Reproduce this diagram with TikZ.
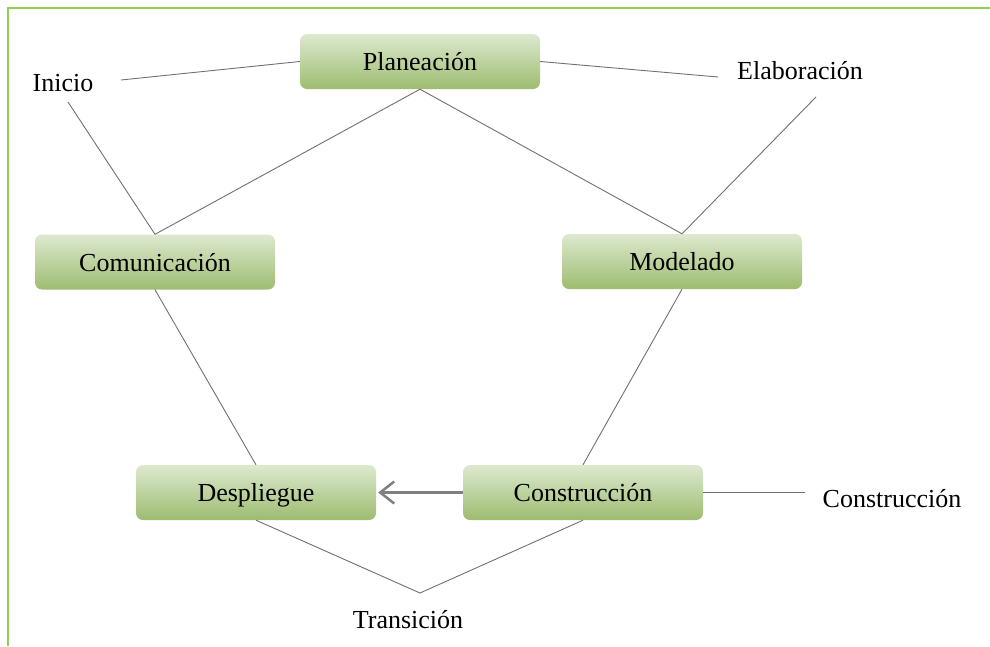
\documentclass[tikz,border=0pt]{standalone}
\usepackage{fontspec}
\setmainfont{Liberation Serif}
\usetikzlibrary{arrows.meta}
\definecolor{boxtop}{HTML}{DDE9CF}
\definecolor{boxbot}{HTML}{9DBC70}
\definecolor{framegreen}{HTML}{92D050}
\definecolor{linegray}{HTML}{707070}
\definecolor{arrowgray}{HTML}{7F7F7F}
\begin{document}
\begin{tikzpicture}[x=1pt,y=-1pt,
  stagebox/.style={rounded corners=7pt, top color=boxtop, bottom color=boxbot,
    draw=none, minimum width=240pt, minimum height=55pt, inner sep=0pt,
    text height=18pt, text depth=0pt,
    font=\fontsize{26}{30}\selectfont},
  lbl/.style={inner sep=0pt, text height=18pt, text depth=0pt, font=\fontsize{26}{30}\selectfont},
  conn/.style={draw=linegray, line width=0.9pt}]
\useasboundingbox (0,0) rectangle (990,646);
% frame
\draw[framegreen, line width=2.5pt] (8,646) -- (8,8) -- (990,8);
% nodes
\node[stagebox] (plan) at (420,61.5) {Planeación};
\node[stagebox] (com) at (155,262) {Comunicación};
\node[stagebox] (mod) at (682,261.5) {Modelado};
\node[stagebox] (des) at (256,492.5) {Despliegue};
\node[stagebox] (con) at (583,492.5) {Construcción};
% labels
\node[lbl] (ini) at (63,82) {Inicio};
\node[lbl] (ela) at (800,70) {Elaboración};
\node[lbl] (conl) at (892,498) {Construcción};
\node[lbl] (tra) at (408,619) {Transición};
% free ends
\coordinate (iniR) at (121,80);
\coordinate (iniB) at (68,102);
\coordinate (elaL) at (718,77);
\coordinate (elaB) at (816,97);
\coordinate (conR) at (805,492.5);
\coordinate (traT) at (420,593);
% connectors
\draw[conn] (iniR) -- (plan.west);
\draw[conn] (plan.east) -- (elaL);
\draw[conn] (iniB) -- (com.north);
\draw[conn] (plan.south) -- (com.north);
\draw[conn] (plan.south) -- (mod.north);
\draw[conn] (elaB) -- (mod.north);
\draw[conn] (com.south) -- (des.north);
\draw[conn] (mod.south) -- (con.north);
\draw[conn] (con.east) -- (conR);
\draw[conn] (des.south) -- (traT) -- (con.south);
\draw[draw=arrowgray, line width=2.5pt, -{Straight Barb[length=14pt,width=22pt,line width=2.5pt]}] (con.west) -- ([xshift=2pt]des.east);
\end{tikzpicture}
\end{document}
